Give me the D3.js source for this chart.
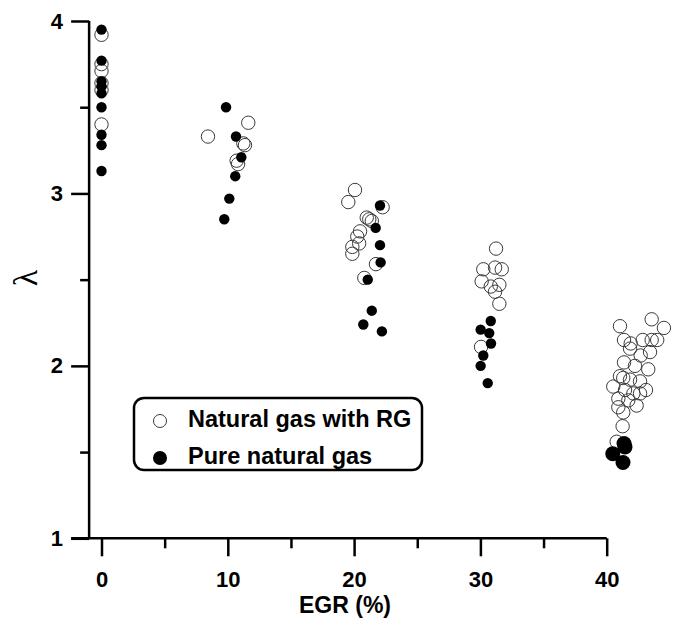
<!DOCTYPE html>
<html>
<head>
<meta charset="utf-8">
<script src="https://cdn.jsdelivr.net/npm/d3@7"></script>
<style>
  body { margin: 0; background: #fff; }
  svg { display: block; }
  .axis path, .axis line { stroke: #000; stroke-width: 2.5px; }
  .axis text { font-family: "Liberation Sans", Arial, sans-serif; font-weight: bold; font-size: 22px; fill: #000; }
</style>
</head>
<body>
<div id="chart"></div>
<script>
/* datos: EGR (%) y lambda */
var rgEGR = [0, 0, 0, 0, 0, 0,
  8.43, 11.62, 11.23, 11.36, 10.70, 10.81,
  20.07, 19.54, 22.26, 21.0, 21.2, 21.4, 20.47, 20.25, 20.4, 19.86, 19.86, 21.73, 20.81,
  31.24, 30.23, 31.16, 31.69, 30.1, 30.82, 31.5, 31.16, 31.5, 30.05,
  43.56, 41.05, 44.53, 44.0, 42.85, 41.37, 41.9, 43.56, 41.85, 43.43, 42.69, 41.37, 42.24, 43.29,
  41.05, 41.31, 41.85, 42.64, 40.52, 43.11, 41.45, 42.11, 42.64, 40.92, 41.71, 42.37, 40.92, 41.31,
  41.26, 40.79];
var rgLambda = [3.92, 3.75, 3.71, 3.64, 3.60, 3.40,
  3.33, 3.41, 3.29, 3.28, 3.19, 3.17,
  3.02, 2.95, 2.92, 2.86, 2.85, 2.84, 2.78, 2.75, 2.71, 2.69, 2.65, 2.59, 2.51,
  2.68, 2.56, 2.57, 2.56, 2.49, 2.46, 2.47, 2.43, 2.36, 2.11,
  2.27, 2.23, 2.22, 2.15, 2.15, 2.15, 2.13, 2.15, 2.10, 2.08, 2.06, 2.02, 2.00, 1.98,
  1.94, 1.93, 1.92, 1.91, 1.88, 1.86, 1.86, 1.84, 1.84, 1.81, 1.80, 1.77, 1.76, 1.73,
  1.65, 1.56];

var pureEGR = [0, 0, 0, 0, 0, 0, 0, 0, 0,
  9.86, 10.65, 11.07, 10.59, 10.12, 9.72,
  22.05, 21.71, 22.05, 22.1, 21.08, 21.4, 20.73, 22.2,
  30.82, 30.02, 30.7, 30.84, 30.23, 30.02, 30.58,
  41.37, 41.45, 40.48, 41.29];
var pureLambda = [3.95, 3.77, 3.65, 3.62, 3.58, 3.50, 3.34, 3.28, 3.13,
  3.50, 3.33, 3.21, 3.10, 2.97, 2.85,
  2.93, 2.80, 2.70, 2.60, 2.50, 2.32, 2.24, 2.20,
  2.26, 2.21, 2.19, 2.13, 2.06, 2.00, 1.90,
  1.55, 1.53, 1.49, 1.44];

var xMajor = [0, 10, 20, 30, 40],
    xMinor = [5, 15, 25, 35],
    yMajor = [1, 2, 3, 4],
    yMinor = [1.5, 2.5, 3.5];

var legendLabels = ["Natural gas with RG", "Pure natural gas"];

function graficaLambda(target) {
    var w = 676, h = 618;

    var svg = d3.select(target).append("svg")
        .attr("width", w)
        .attr("height", h);

    var x = d3.scaleLinear().domain([0, 40]).range([101.5, 606.7]);
    var y = d3.scaleLinear().domain([1, 4]).range([538.3, 21]);

    var yAxisX = x(-0.98);

    // ejes: lineas de base
    svg.append("line")
        .attr("x1", x(-2.4)).attr("x2", x(40))
        .attr("y1", y(1)).attr("y2", y(1))
        .attr("stroke", "#000").attr("stroke-width", 2.5);
    svg.append("line")
        .attr("x1", yAxisX).attr("x2", yAxisX)
        .attr("y1", y(1)).attr("y2", y(4))
        .attr("stroke", "#000").attr("stroke-width", 2.5);

    // eje x
    var gx = svg.append("g").attr("class", "axis")
        .attr("transform", translation(0, y(1)))
        .call(d3.axisBottom(x).tickValues(xMajor).tickSize(18).tickPadding(15).tickFormat(d3.format("d")));
    gx.select(".domain").remove();
    var gx2 = svg.append("g").attr("class", "axis")
        .attr("transform", translation(0, y(1)))
        .call(d3.axisBottom(x).tickValues(xMinor).tickSize(10).tickFormat(""));
    gx2.select(".domain").remove();

    // eje y
    var gy = svg.append("g").attr("class", "axis")
        .attr("transform", translation(yAxisX, 0))
        .call(d3.axisLeft(y).tickValues(yMajor).tickSize(18).tickPadding(8).tickFormat(d3.format("d")));
    gy.select(".domain").remove();
    var gy2 = svg.append("g").attr("class", "axis")
        .attr("transform", translation(yAxisX, 0))
        .call(d3.axisLeft(y).tickValues(yMinor).tickSize(9).tickFormat(""));
    gy2.select(".domain").remove();

    // titulos
    svg.append("text")
        .attr("x", 345).attr("y", 613)
        .attr("text-anchor", "middle")
        .style("font-family", "Liberation Sans, Arial, sans-serif")
        .style("font-weight", "bold")
        .style("font-size", "23px")
        .text("EGR (%)");

    svg.append("text")
        .attr("transform", translation(25, 278) + " rotate(-90)")
        .attr("text-anchor", "middle")
        .attr("dy", "0.35em")
        .style("font-family", "Liberation Serif, Times New Roman, serif")
        .style("font-size", "34px")
        .text("λ");

    // puntos
    var rg = rgEGR.map(function(d, i) { return { egr: d, lambda: rgLambda[i] }; });
    var pure = pureEGR.map(function(d, i) { return { egr: d, lambda: pureLambda[i] }; });

    svg.append("g").selectAll("circle")
        .data(rg)
        .enter()
        .append("circle")
        .attr("cx", function(d) { return x(d.egr); })
        .attr("cy", function(d) { return y(d.lambda); })
        .attr("r", 6.7)
        .style("fill", "none")
        .style("stroke", "#3a3a3a")
        .style("stroke-width", 1);

    svg.append("g").selectAll("circle")
        .data(pure)
        .enter()
        .append("circle")
        .attr("cx", function(d) { return x(d.egr); })
        .attr("cy", function(d) { return y(d.lambda); })
        .attr("r", function(d) { return d.egr > 35 ? 7.5 : 5.2; })
        .style("fill", "#000");

    // leyenda
    var legend = svg.append("g").attr("transform", translation(134, 398));
    legend.append("rect")
        .attr("width", 288).attr("height", 72)
        .attr("rx", 10).attr("ry", 10)
        .style("fill", "#fff")
        .style("stroke", "#000")
        .style("stroke-width", 2.5);

    legend.selectAll(".lg-mark")
        .data(legendLabels)
        .enter()
        .append("circle")
        .attr("class", "lg-mark")
        .attr("cx", 26)
        .attr("cy", function(d, i) { return 23 + i * 37; })
        .attr("r", function(d, i) { return i === 0 ? 6.5 : 7; })
        .style("fill", function(d, i) { return i === 0 ? "#fff" : "#000"; })
        .style("stroke", function(d, i) { return i === 0 ? "#3a3a3a" : "none"; })
        .style("stroke-width", 1);

    legend.selectAll(".lg-text")
        .data(legendLabels)
        .enter()
        .append("text")
        .attr("class", "lg-text")
        .attr("x", 54)
        .attr("y", function(d, i) { return 29 + i * 37; })
        .style("font-family", "Liberation Sans, Arial, sans-serif")
        .style("font-weight", "bold")
        .style("font-size", "23.5px")
        .text(function(d) { return d; });

    // string concat for translate
    function translation(a, b) {
        return 'translate(' + a + ',' + b + ')';
    }
}

graficaLambda("#chart");
</script>
</body>
</html>
